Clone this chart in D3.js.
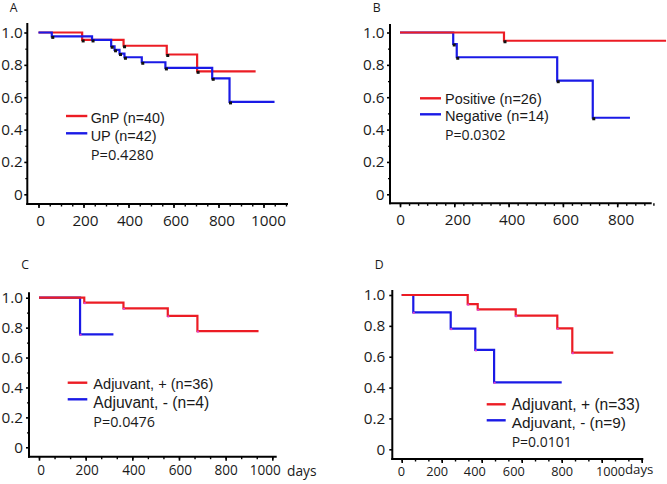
<!DOCTYPE html>
<html><head><meta charset="utf-8">
<script src="https://cdn.jsdelivr.net/npm/d3@7/dist/d3.min.js"></script>
<style>body{margin:0;background:#fff}svg{display:block}</style>
</head><body>
<svg id="c" width="667" height="484"></svg>
<script>
// ---------- DATA ----------
const panelLabels = ["A", "B", "C", "D"];
const yTickValues = [0, 0.2, 0.4, 0.6, 0.8, 1.0];
const yTickLabels = ["0", "0.2", "0.4", "0.6", "0.8", "1.0"];
const xTicksA = [0, 200, 400, 600, 800, 1000];
const xTicksB = [0, 200, 400, 600, 800];
const xTicksC = [0, 200, 400, 600, 800, 1000];
const xTicksD = [0, 200, 400, 600, 800, 1000, 1200];
const xTickLabelsD = ["0", "200", "400", "600", "800", "1000", ""];
const xUnit = "days";

// Panel A
const A_gnp_days = [0, 194, 378, 570, 705, 965];
const A_gnp_surv = [1.0, 0.954, 0.918, 0.864, 0.760, 0.760];
const A_up_days  = [0, 59, 238, 323, 338, 360, 382, 459, 564, 772, 849, 1049];
const A_up_surv  = [1.0, 0.976, 0.954, 0.915, 0.893, 0.870, 0.847, 0.816, 0.781, 0.717, 0.571, 0.571];
const A_legend = ["GnP (n=40)", "UP (n=42)"];
const A_p = "P=0.4280";

// Panel B
const B_pos_days = [0, 383, 980];
const B_pos_surv = [1.0, 0.949, 0.949];
const B_neg_days = [0, 196, 209, 579, 710, 847];
const B_neg_surv = [1.0, 0.929, 0.847, 0.702, 0.473, 0.473];
const B_legend = ["Positive (n=26)", "Negative (n=14)"];
const B_p = "P=0.0302";

// Panel C
const C_plus_days  = [0, 194, 362, 552, 679, 941];
const C_plus_surv  = [1.0, 0.967, 0.929, 0.878, 0.777, 0.777];
const C_minus_days = [0, 176, 319];
const C_minus_surv = [1.0, 0.755, 0.755];
const C_legend = ["Adjuvant, + (n=36)", "Adjuvant, - (n=4)"];
const C_p = "P=0.0476";

// Panel D
const D_plus_days  = [0, 330, 380, 570, 778, 853, 1058];
const D_plus_surv  = [1.0, 0.941, 0.907, 0.866, 0.784, 0.626, 0.626];
const D_minus_days = [0, 58, 245, 368, 462, 800];
const D_minus_surv = [1.0, 0.888, 0.782, 0.644, 0.434, 0.434];
const D_legend = ["Adjuvant, + (n=33)", "Adjuvant, - (n=9)"];
const D_p = "P=0.0101";

// ---------- STYLE / LAYOUT ----------
const RED = "#ec1c24", BLUE = "#1a1ae6", INK = "#1a1a1a";
const SANS = "'Open Sans', 'DejaVu Sans', sans-serif";
const ARIAL = "'Liberation Sans', Arial, sans-serif";

const svg = d3.select("#c");
const zip = (a, b) => a.map((d, i) => [d, b[i]]);

// scale a text's font-size so that its rendered width equals w
function fitWidth(sel, w) {
  const n = sel.node();
  const cur = n.getComputedTextLength();
  const fs = parseFloat(sel.attr("font-size"));
  if (cur > 0) sel.attr("font-size", (fs * w / cur).toFixed(2));
}

// reference: "1000" in panel A is ~35px wide with this font
const probe = svg.append("text").attr("font-family", SANS).attr("font-size", 15).text("1000");
const fontK = 35 / probe.node().getComputedTextLength();
probe.remove();

function drawPanel(cfg) {
  const g = svg.append("g");
  const x = d3.scaleLinear().domain([0, 1000]).range([cfg.x0, cfg.x1000]);
  const y = d3.scaleLinear().domain([0, 1]).range([cfg.y0, cfg.y1]);

  g.append("text").attr("x", cfg.letter[0]).attr("y", cfg.letter[1]).attr("dy", "0.35em")
    .attr("text-anchor", "middle").attr("font-family", SANS).attr("font-size", 12 * fontK)
    .attr("fill", INK).text(cfg.label);

  // x ticks
  g.append("g").attr("transform", `translate(0,${cfg.axisY})`)
    .call(d3.axisBottom(x).tickValues(cfg.xMinor).tickSize(2.5).tickFormat(""))
    .call(a => a.select(".domain").remove())
    .call(a => a.selectAll("line").attr("stroke", "#000").attr("stroke-width", 1.4));
  g.append("g").attr("transform", `translate(0,${cfg.axisY})`)
    .call(d3.axisBottom(x).tickValues(cfg.xTicks).tickSize(4).tickPadding(cfg.xPad)
      .tickFormat((d, i) => cfg.xLabels[i]))
    .call(a => a.select(".domain").remove())
    .call(a => a.selectAll("line").attr("stroke", "#000").attr("stroke-width", 1.6))
    .call(a => a.selectAll("text").attr("font-family", SANS).attr("font-size", cfg.xFont * fontK)
      .attr("fill", INK).attr("dx", (d, i) => cfg.xLabelShift ? cfg.xLabelShift[i] : 0));

  // y ticks
  if (cfg.yMinor) {
    g.append("g").attr("transform", `translate(${cfg.axisX},0)`)
      .call(d3.axisLeft(y).tickValues(cfg.yMinor).tickSize(2).tickFormat(""))
      .call(a => a.select(".domain").remove())
      .call(a => a.selectAll("line").attr("stroke", "#000").attr("stroke-width", 1.2));
  }
  g.append("g").attr("transform", `translate(${cfg.axisX},0)`)
    .call(d3.axisLeft(y).tickValues(yTickValues).tickSize(3).tickPadding(cfg.yPad)
      .tickFormat((d, i) => yTickLabels[i]))
    .call(a => a.select(".domain").remove())
    .call(a => a.selectAll("line").attr("stroke", "#000").attr("stroke-width", 1.6))
    .call(a => a.selectAll("text").attr("font-family", SANS).attr("font-size", 15 * fontK).attr("fill", INK));

  // axis lines
  g.append("line").attr("x1", cfg.axisX).attr("x2", cfg.axisX).attr("y1", cfg.axisTop).attr("y2", cfg.axisY + 1)
    .attr("stroke", "#000").attr("stroke-width", 2);
  g.append("line").attr("x1", cfg.axisX - 1).attr("x2", cfg.axisRight).attr("y1", cfg.axisY).attr("y2", cfg.axisY)
    .attr("stroke", "#000").attr("stroke-width", 2);

  if (cfg.unit) {
    g.append("text").attr("x", cfg.unit[0]).attr("y", cfg.unit[1]).attr("dy", "0.35em")
      .attr("font-family", SANS).attr("font-size", cfg.unit[2] * fontK).attr("fill", INK).text(xUnit);
  }

  // survival curves (in stacking order)
  const line = d3.line().x(d => x(d[0])).y(d => y(d[1])).curve(d3.curveStepAfter);
  cfg.curves.forEach(s => {
    const pts = zip(s.days, s.surv);
    g.append("path").attr("d", line(pts)).attr("fill", "none")
      .attr("stroke", s.color).attr("stroke-width", 2.2);
    const ev = pts.slice(1, -1).filter((d, i) => d[1] < pts[i][1]);
    g.selectAll(null).data(ev).enter().append("rect")
      .attr("x", d => x(d[0]) - 0.5).attr("y", d => y(d[1]) - 0.5)
      .attr("width", cfg.markSize).attr("height", cfg.markSize)
      .attr("fill", cfg.markColor);
  });

  // legend (red first, blue second)
  const L = cfg.legend;
  [RED, BLUE].forEach((col, i) => {
    g.append("line").attr("x1", L.x1).attr("x2", L.x2).attr("y1", L.lineY[i]).attr("y2", L.lineY[i])
      .attr("stroke", col).attr("stroke-width", 2.4);
    const t = g.append("text").attr("x", L.tx).attr("y", L.textY[i]).attr("dy", "0.35em")
      .attr("font-family", L.font).attr("font-size", 15).attr("fill", INK).text(L.items[i]);
    fitWidth(t, L.widths[i]);
  });
  const pt = g.append("text").attr("x", L.tx).attr("y", L.pY).attr("dy", "0.35em")
    .attr("font-family", SANS).attr("font-size", 14).attr("fill", INK).text(L.p);
  fitWidth(pt, L.pWidth);
}

const yMinorVals = [0.1, 0.3, 0.5, 0.7, 0.9];

const panels = [
  { label: panelLabels[0], letter: [13.5, 7.5],
    x0: 38.5, x1000: 263.5, y0: 194.3, y1: 32.5,
    axisX: 27.3, axisTop: 23, axisY: 204, axisRight: 288,
    xTicks: xTicksA, xLabels: xTicksA.map(String), xMinor: d3.range(0, 1101, 50),
    xLabelShift: [1.5, 1.5, 1, 2, 3, 4.5],
    xPad: 7, xFont: 15, yPad: 1.5, yMinor: yMinorVals,
    markSize: 3, markColor: "#111",
    curves: [
      { days: A_gnp_days, surv: A_gnp_surv, color: RED },
      { days: A_up_days, surv: A_up_surv, color: BLUE }
    ],
    legend: { items: A_legend, widths: [74, 66], x1: 66, x2: 87.3, tx: 90.7,
      lineY: [116, 133.3], textY: [118.3, 136], pY: 155.3,
      font: ARIAL, p: A_p, pWidth: 63 }
  },
  { label: panelLabels[1], letter: [376.7, 7.5],
    x0: 400, x1000: 671.5, y0: 194.3, y1: 32.5,
    axisX: 390, axisTop: 24, axisY: 203.3, axisRight: 651.7,
    xTicks: xTicksB, xLabels: xTicksB.map(String), xMinor: d3.range(0, 950, 200 / 6),
    xLabelShift: [0, 3, 3, 2.5, 3.5],
    xPad: 7, xFont: 15, yPad: 2.5, yMinor: yMinorVals,
    markSize: 3, markColor: "#111",
    curves: [
      { days: B_neg_days, surv: B_neg_surv, color: BLUE },
      { days: B_pos_days, surv: B_pos_surv, color: RED }
    ],
    legend: { items: B_legend, widths: [96.7, 104], x1: 420, x2: 441, tx: 445,
      lineY: [98.3, 114.3], textY: [98.8, 116.2], pY: 135,
      font: ARIAL, p: B_p, pWidth: 60.7 }
  },
  { label: panelLabels[2], letter: [25, 265],
    x0: 39, x1000: 272.3, y0: 447.3, y1: 297.7,
    axisX: 29, axisTop: 292.3, axisY: 456.7, axisRight: 276.7,
    xTicks: xTicksC, xLabels: xTicksC.map(String), xMinor: d3.range(0, 1040, 200 / 3),
    xLabelShift: [1.5, 1, 1, 1, 0, -7.5],
    xPad: 5, xFont: 13.3, yPad: 3, yMinor: yMinorVals,
    markSize: 2, markColor: "#e040d0",
    unit: [287, 471, 13.5],
    curves: [
      { days: C_minus_days, surv: C_minus_surv, color: BLUE },
      { days: C_plus_days, surv: C_plus_surv, color: RED }
    ],
    legend: { items: C_legend, widths: [120, 116], x1: 67.7, x2: 87.3, tx: 93.3,
      lineY: [382.7, 399.3], textY: [384, 402.5], pY: 421.7,
      font: ARIAL, p: C_p, pWidth: 61.7 }
  },
  { label: panelLabels[3], letter: [379.3, 265],
    x0: 401.7, x1000: 601.7, y0: 449.3, y1: 295,
    axisX: 392.3, axisTop: 290, axisY: 459, axisRight: 643.3,
    xTicks: xTicksD, xLabels: xTickLabelsD, xMinor: d3.range(0, 1220, 200 / 3),
    xLabelShift: [-0.7, -5, -7.4, -8.4, 0, 8.3, 0],
    xPad: 3.5, xFont: 12.5, yPad: 4, yMinor: null,
    markSize: 2, markColor: "#e040d0",
    unit: [625, 469.5, 13],
    curves: [
      { days: D_minus_days, surv: D_minus_surv, color: BLUE },
      { days: D_plus_days, surv: D_plus_surv, color: RED }
    ],
    legend: { items: D_legend, widths: [128.3, 114.3], x1: 486.7, x2: 505.7, tx: 511.7,
      lineY: [404.3, 420.3], textY: [404.7, 422.3], pY: 441.7,
      font: ARIAL, p: D_p, pWidth: 60 }
  }
];

panels.forEach(drawPanel);
</script>
</body></html>
